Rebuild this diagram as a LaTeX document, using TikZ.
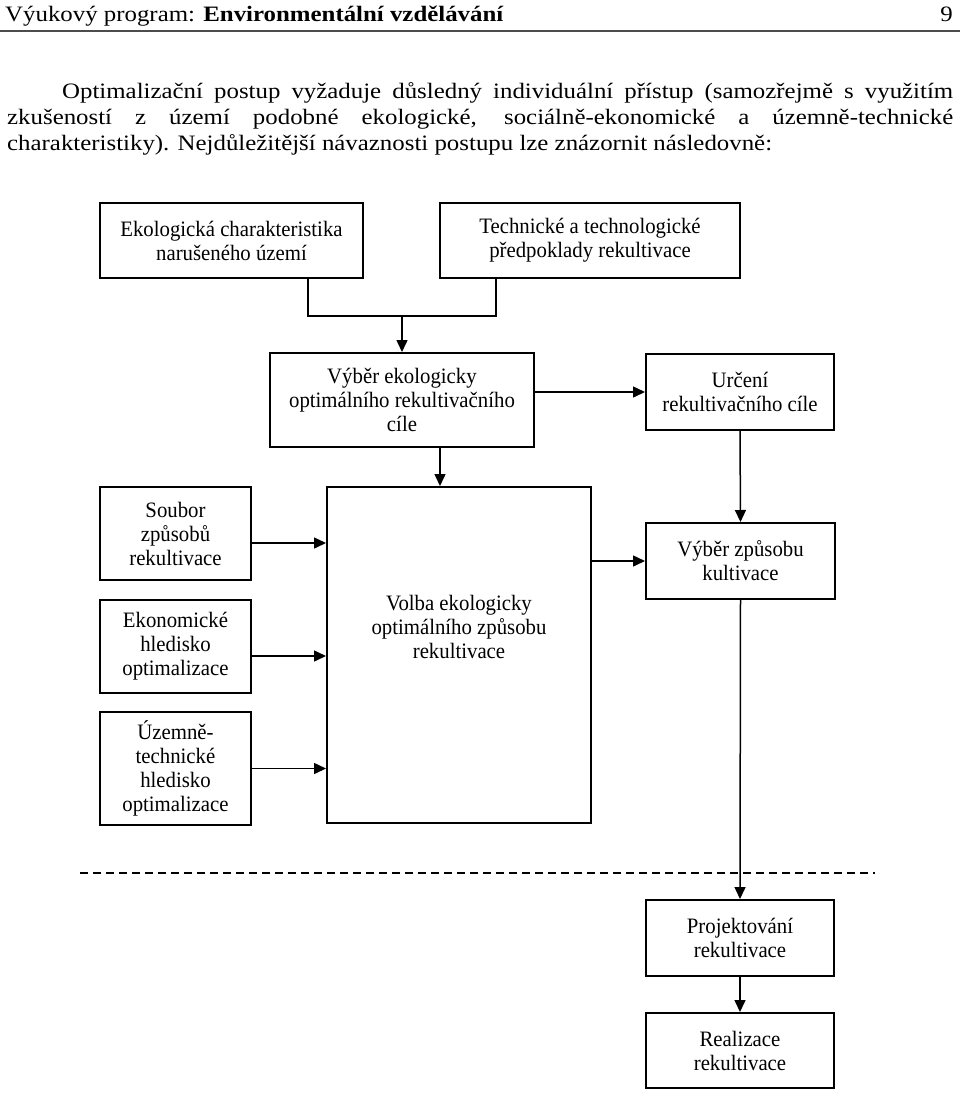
\documentclass[tikz,border=0pt]{standalone}
\usepackage{fontspec}
\setmainfont{Liberation Serif}
\newfontfamily\widefont[FakeStretch=1.13]{Liberation Serif}
\newfontfamily\narrowfont[FakeStretch=0.945]{Liberation Serif}
\usetikzlibrary{arrows.meta}
\begin{document}
\begin{tikzpicture}[x=1pt,y=-1pt,
  box/.style={draw, line width=2pt, inner sep=0pt, align=center, font=\narrowfont\fontsize{22}{24}\selectfont},
  lbl/.style={inner sep=0pt, align=center, font=\narrowfont\fontsize{22}{24}\selectfont},
  arr/.style={line width=1.5pt, -{Triangle[length=12pt,width=11pt]}},
  ln/.style={line width=1.5pt},
  para/.style={inner sep=0pt, anchor=base west, font=\widefont\fontsize{22}{26}\selectfont}]
\useasboundingbox (0,0) rectangle (960,1093);
% header
\node[inner sep=0pt, anchor=base west, font=\widefont\fontsize{22}{26}\selectfont] (hdr) at (5,21) {Výukový program: \textbf{Environmentální vzdělávání}};
\node[inner sep=0pt, anchor=base east, font=\widefont\fontsize{22}{26}\selectfont] (pg) at (953,21) {9};
\coordinate (r1) at (0,31);
\coordinate (r2) at (960,31);
\draw[line width=2pt, black!70] (r1) -- (r2);
% paragraph
\node[para] (p1) at (62,98) {\makebox[891pt][s]{Optimalizační postup vyžaduje důsledný individuální přístup (samozřejmě s využitím}};
\node[para] (p2) at (7,124) {\makebox[946pt][s]{zkušeností z území podobné ekologické, sociálně-ekonomické a územně-technické}};
\node[para] (p3) at (7,150) {charakteristiky). Nejdůležitější návaznosti postupu lze znázornit následovně:};
% boxes
\node[box, minimum width=263pt, minimum height=75pt] (eko) at (231.5,240.5) {Ekologická charakteristika\\narušeného území};
\node[box, minimum width=300pt, minimum height=75pt] (tech) at (590,240.5) {Technické a technologické\\předpoklady rekultivace};
\node[box, minimum width=264pt, minimum height=94pt] (vyber) at (402,400) {Výběr ekologicky\\optimálního rekultivačního\\cíle};
\node[box, minimum width=188pt, minimum height=76pt] (urceni) at (740,392) {Určení\\rekultivačního cíle};
\node[box, minimum width=151pt, minimum height=93pt] (soubor) at (175.5,533.5) {Soubor\\způsobů\\rekultivace};
\node[box, minimum width=151pt, minimum height=93pt] (ekon) at (175.5,646.5) {Ekonomické\\hledisko\\optimalizace};
\node[box, minimum width=151pt, minimum height=113pt] (uzem) at (175.5,768.5) {Územně-\\technické\\hledisko\\optimalizace};
\node[box, minimum width=264pt, minimum height=336pt] (volba) at (459,655) {};
\node[lbl] (volbat) at (459,627) {Volba ekologicky\\optimálního způsobu\\rekultivace};
\node[box, minimum width=189pt, minimum height=76pt] (vyberzp) at (740.5,561) {Výběr způsobu\\kultivace};
\node[box, minimum width=188pt, minimum height=76pt] (proj) at (740,938) {Projektování\\rekultivace};
\node[box, minimum width=188pt, minimum height=75pt] (real) at (740,1050.5) {Realizace\\rekultivace};
% connectors
\coordinate (j1) at (308,316);
\coordinate (j2) at (496,316);
\coordinate (j3) at (402,316);
\draw[ln] (eko.south -| j1) -- (j1) -- (j2) -- (tech.south -| j2);
\draw[arr] (j3) -- (vyber.north);
\draw[arr] (vyber.east |- urceni.west) -- (urceni.west);
\draw[arr] (urceni.south) -- (vyberzp.north);
\coordinate (k) at (440,470);
\draw[arr] (vyber.south -| k) -- (volba.north -| k);
\draw[arr] ([yshift=-9.5pt]soubor.east) -- ([yshift=-9.5pt]soubor.east -| volba.west);
\draw[arr] ([yshift=-9.5pt]ekon.east) -- ([yshift=-9.5pt]ekon.east -| volba.west);
\draw[arr] (uzem.east) -- (uzem.east -| volba.west);
\draw[arr] (volba.east |- vyberzp.west) -- (vyberzp.west);
\draw[arr] (vyberzp.south) -- (proj.north);
\draw[arr] (proj.south) -- (real.north);
\coordinate (d1) at (80,873);
\coordinate (d2) at (875,873);
\draw[line width=1.6pt, dash pattern=on 8pt off 5pt] (d1) -- (d2);
\end{tikzpicture}
\end{document}
